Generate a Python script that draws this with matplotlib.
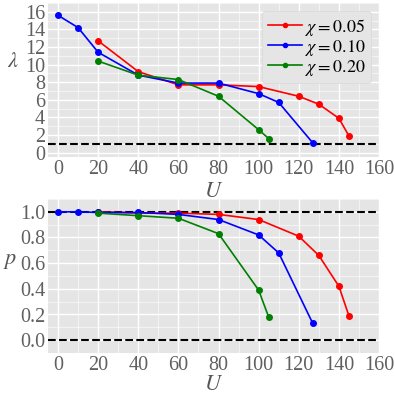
import matplotlib
matplotlib.use("Agg")
import matplotlib.pyplot as plt
from matplotlib.ticker import MultipleLocator

plt.style.use("ggplot")
plt.rcParams["font.family"] = ["Liberation Serif", "DejaVu Serif"]
plt.rcParams["mathtext.fontset"] = "stix"

labels = [r"$\chi=0.05$", r"$\chi=0.10$", r"$\chi=0.20$"]
colors = ["red", "blue", "green"]

U_red = [20, 40, 60, 80, 100, 120, 130, 140, 145]
U_blue = [0, 10, 20, 40, 60, 80, 100, 110, 127]
U_green = [20, 40, 60, 80, 100, 105]

lam_red = [12.7, 9.2, 7.7, 7.7, 7.5, 6.4, 5.5, 3.9, 1.9]
lam_blue = [15.6, 14.2, 11.4, 8.8, 7.9, 7.9, 6.7, 5.7, 1.1]
lam_green = [10.4, 8.8, 8.3, 6.4, 2.6, 1.6]

p_red = [1.0, 0.99, 0.99, 0.98, 0.94, 0.81, 0.66, 0.42, 0.19]
p_blue = [1.0, 1.0, 0.995, 0.995, 0.98, 0.94, 0.82, 0.68, 0.13]
p_green = [0.99, 0.97, 0.95, 0.83, 0.39, 0.18]

Us = [U_red, U_blue, U_green]
lams = [lam_red, lam_blue, lam_green]
ps = [p_red, p_blue, p_green]

fig = plt.figure(figsize=(3.95, 3.95), dpi=100)
ax1 = fig.add_axes([48/395, 1-157/395, 331/395, 154/395])
ax2 = fig.add_axes([48/395, 1-353/395, 331/395, 154/395])

for U, y, c, lab in zip(Us, lams, colors, labels):
    ax1.plot(U, y, "-o", color=c, lw=1.2, ms=4, label=lab)
for U, y, c in zip(Us, ps, colors):
    ax2.plot(U, y, "-o", color=c, lw=1.2, ms=4)

ax1.axhline(1.0, color="black", ls="--", lw=1.5, zorder=1.5)
ax2.axhline(1.0, color="black", ls="--", lw=1.5, zorder=1.5)
ax2.axhline(0.0, color="black", ls="--", lw=1.5, zorder=1.5)

ax1.set_xlim(-5, 160)
ax1.set_ylim(-0.5, 17)
ax2.set_xlim(-5, 160)
ax2.set_ylim(-0.1, 1.1)

ax1.yaxis.set_major_locator(MultipleLocator(2))
ax1.yaxis.set_minor_locator(MultipleLocator(1))
ax2.yaxis.set_major_locator(MultipleLocator(0.2))
ax2.yaxis.set_minor_locator(MultipleLocator(0.1))
ax2.yaxis.set_major_formatter(matplotlib.ticker.FormatStrFormatter("%.1f"))
for ax in (ax1, ax2):
    ax.xaxis.set_major_locator(MultipleLocator(20))
    ax.xaxis.set_minor_locator(MultipleLocator(10))
    ax.grid(True, which="major", color="white", lw=1.0)
    ax.grid(True, which="minor", color="white", lw=0.5, alpha=0.8)
    ax.tick_params(which="both", length=0, labelsize=14.5, colors="#606060", pad=2)
    ax.set_xlabel(r"$U$", fontsize=16, color="#555555")
    for s in ax.spines.values():
        s.set_visible(False)

ax1.set_ylabel(r"$\lambda$", fontsize=16, color="#555555", rotation=0)
ax2.set_ylabel(r"$p$", fontsize=16, color="#555555", rotation=0)
ax1.yaxis.set_label_coords(-0.105, 0.55)
ax2.yaxis.set_label_coords(-0.115, 0.53)
ax1.xaxis.set_label_coords(0.5, -0.17)
ax2.xaxis.set_label_coords(0.5, -0.15)

ax1.legend(loc="upper right", fontsize=13, markerscale=0.75, handlelength=1.9,
           handletextpad=0.15, labelspacing=0.0, borderpad=0.3, borderaxespad=0.45,
           facecolor="#E5E5E5", edgecolor="#D8D8D8", framealpha=1.0)

fig.savefig("out.png", dpi=100)
